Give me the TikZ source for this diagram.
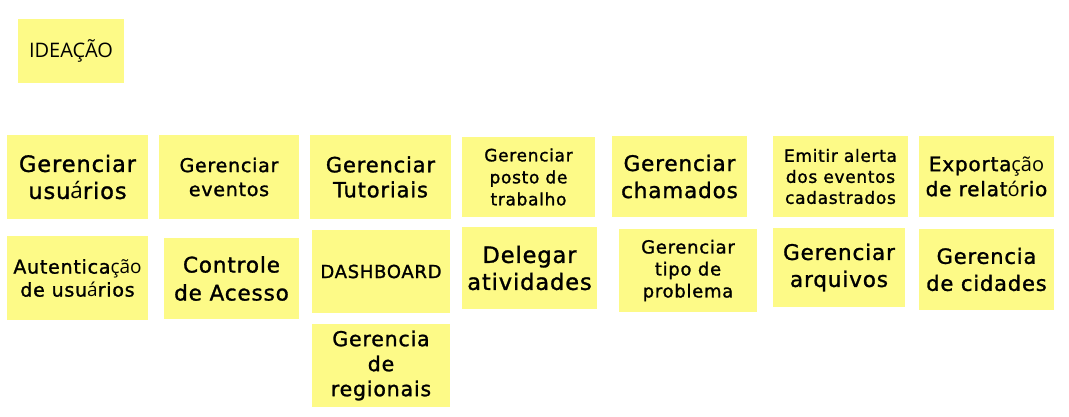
\documentclass[tikz,border=0pt]{standalone}
\usepackage{fontspec}
\usepackage{tikz}
\usetikzlibrary{positioning}
\newfontfamily\handfont{DejaVu Sans}[LetterSpace=4, FakeBold=1.3]
\newfontfamily\plainfont{Open Sans}
\definecolor{notey}{RGB}{253,250,135}
\newcommand\notefont[2]{\handfont\fontsize{#1}{#2}\selectfont}
\newcommand\fbk[1]{{\plainfont #1}}

\begin{document}
\begin{tikzpicture}[x=1pt, y=-1pt, note/.style={fill=notey, inner sep=0pt, align=center}]
        \useasboundingbox (0,0) rectangle (1069,416);

        \node[note, minimum width=106pt, minimum height=64pt, font=\plainfont\fontsize{20}{24}\selectfont] (ideacao) at (71,51) {IDEAÇÃO};

        \node[note, minimum width=141pt, minimum height=84pt, font=\notefont{22.5}{27}] (usuarios) at (77.5,177) {Gerenciar\\usu\fbk{á}rios};
        \node[note, minimum width=140pt, minimum height=84pt, font=\notefont{19}{24}] (eventos) at (229,177) {Gerenciar\\eventos};
        \node[note, minimum width=141pt, minimum height=84pt, font=\notefont{21}{25}] (tutoriais) at (380.5,177) {Gerenciar\\Tutoriais};
        \node[note, minimum width=133pt, minimum height=80pt, font=\notefont{17}{22}] (posto) at (528.5,177) {Gerenciar\\posto de\\trabalho};
        \node[note, minimum width=135pt, minimum height=81pt, font=\notefont{21.5}{27}] (chamados) at (679.5,176.5) {Gerenciar\\chamados};
        \node[note, minimum width=135pt, minimum height=81pt, font=\notefont{17}{21}] (alerta) at (840.5,176.5) {Emitir alerta\\dos eventos\\cadastrados};
        \node[note, minimum width=135pt, minimum height=81pt, font=\notefont{20}{25}] (exportacao) at (986.5,176.5) {Exporta\fbk{ção}\\de relat\fbk{ó}rio};

        \node[note, minimum width=141pt, minimum height=84pt, font=\notefont{19}{23}] (autenticacao) at (77.5,278) {Autentica\fbk{ção}\\de usu\fbk{á}rios};
        \node[note, minimum width=135pt, minimum height=81pt, font=\notefont{21.5}{28}] (controle) at (231.5,278.5) {Controle\\de Acesso};
        \node[note, minimum width=138pt, minimum height=83pt, font=\notefont{18}{20}] (dashboard) at (381,271.5) {DASHBOARD};
        \node[note, minimum width=135pt, minimum height=82pt, font=\notefont{22.5}{27}] (delegar) at (529.5,268) {Delegar\\atividades};
        \node[note, minimum width=138pt, minimum height=83pt, font=\notefont{18}{22}] (tipo) at (688,270.5) {Gerenciar\\tipo de\\problema};
        \node[note, minimum width=132pt, minimum height=79pt, font=\notefont{21.5}{27}] (arquivos) at (839,267.5) {Gerenciar\\arquivos};
        \node[note, minimum width=135pt, minimum height=81pt, font=\notefont{21}{27}] (cidades) at (986.5,269.5) {Gerencia\\de cidades};

        \node[note, minimum width=138pt, minimum height=83pt, font=\notefont{20.5}{25}] (regionais) at (381,365.5) {Gerencia\\de\\regionais};
    \end{tikzpicture}
\end{document}
